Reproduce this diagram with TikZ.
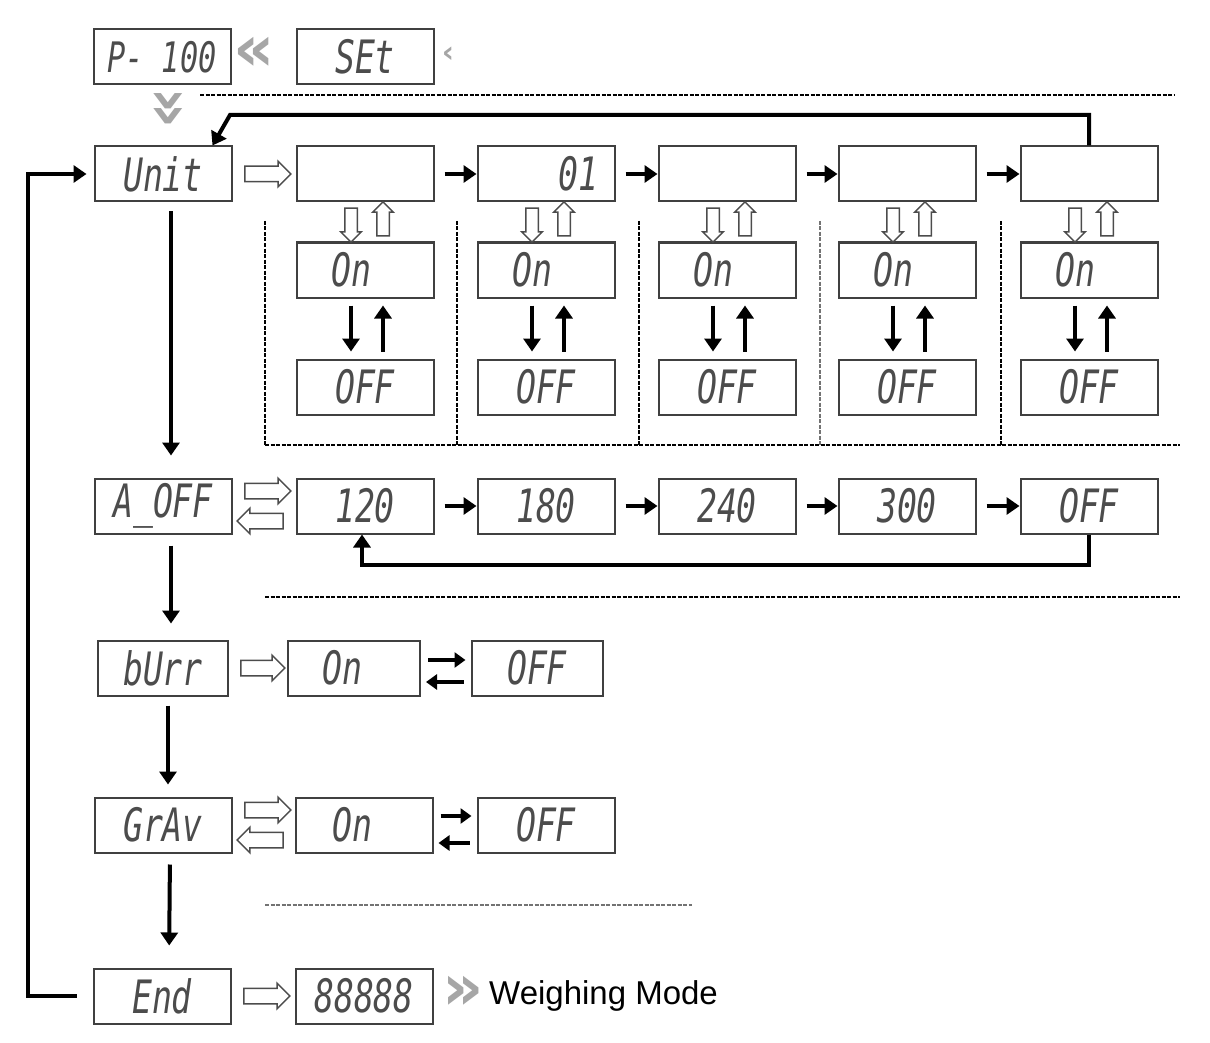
\documentclass[tikz,border=0pt]{standalone}
\usepackage{fontspec}
\setmainfont{Liberation Sans}
\newfontfamily\lcdfont{DejaVu Sans Mono}[FakeStretch=0.72]
\newfontfamily\symfont{DejaVu Sans}
\usetikzlibrary{arrows.meta,positioning,shapes.arrows,calc}

\tikzset{
  lcd/.style={draw=black!75, line width=2pt, minimum width=137pt, minimum height=55pt,
    inner sep=0pt, text=black!70, font=\lcdfont\itshape\fontsize{46}{46}\selectfont},
  lcdtext/.style={inner sep=0pt, text=black!70, font=\lcdfont\itshape\fontsize{46}{46}\selectfont},
  flow/.style={line width=4pt, -{Triangle[length=13pt,width=17pt]}},
  swap/.style={line width=4pt, -{Triangle[length=11pt,width=15pt]}, shorten <=7pt, shorten >=5pt},
  openarr/.style={single arrow, draw=black!70, fill=white, line width=1.5pt,
    minimum height=46pt, inner sep=7pt, single arrow head extend=5pt},
  openv/.style={openarr, minimum height=34pt, inner sep=5.5pt, single arrow head extend=4pt},
  chev/.style={inner sep=0pt, text=black!35, font=\symfont\bfseries\fontsize{64}{64}\selectfont},
  sep/.style={line width=2.5pt, dash pattern=on 4pt off 1.5pt},
  faint/.style={line width=1.2pt, black!55, dash pattern=on 4pt off 1.5pt}
}

\begin{document}
\begin{tikzpicture}[x=1pt, y=-1pt]
  \useasboundingbox (0,0) rectangle (1210,1043);

  % entering the setup menu
  \node[lcd, font=\lcdfont\itshape\fontsize{42}{42}\selectfont] (pset) at (162,57) {P- 100};
  \node[lcd] (set) at (365,57) {SEt};
  \node[chev] (cin) at (254,54) {«};
  \node[chev, font=\symfont\bfseries\fontsize{30}{30}\selectfont] (cset) at (448,55) {‹};
  \node[chev, rotate=-90] (cdown) at (166,108) {»};
  \draw[sep] (200,95) -- (1175,95);

  % unit selection
  \node[lcd] (unit) at (163,174) {Unit};
  \foreach \n/\x in {1/365,2/546,3/727,4/907,5/1089} {
    \node[lcd] (u\n) at (\x,174) {};
    \node[lcd] (on\n) at (\x,270) {\hspace*{-28pt}On};
    \node[lcd] (off\n) at (\x,387) {OFF};
    \node[openv, shape border rotate=270] (dn\n) at ({\x-14},222) {};
    \node[openv, shape border rotate=90] (up\n) at ({\x+18},222) {};
    \draw[flow, shorten <=7pt, shorten >=7pt] ([xshift=-14pt]on\n.south) -- ([xshift=-14pt]off\n.north);
    \draw[flow, shorten <=7pt, shorten >=7pt] ([xshift=18pt]off\n.north) -- ([xshift=18pt]on\n.south);
  }
  \node[lcdtext] (d01) at (578,174) {01};
  \node[openarr] (ounit) at (264,174) {};
  \foreach \a/\b in {1/2,2/3,3/4,4/5}
    \draw[flow, shorten <=10pt] (u\a) -- (u\b);
  \draw[flow] (u5.north) |- (230,115) -- ([xshift=-20pt]unit.north east);

  \draw[sep] (265,221) -- (265,445);
  \draw[sep] (457,221) -- (457,445);
  \draw[sep] (639,221) -- (639,445);
  \draw[faint] (820,221) -- (820,445);
  \draw[sep] (1001,221) -- (1001,445);
  \draw[sep] (265,445) -- (1180,445);

  % auto power off
  \node[lcd] (aoff) at (163,506) {A\_OFF};
  \node[lcd] (t120) at (365,506) {120};
  \node[lcd] (t180) at (546,506) {180};
  \node[lcd] (t240) at (727,506) {240};
  \node[lcd] (t300) at (907,506) {300};
  \node[lcd] (toff) at (1089,506) {OFF};
  \node[openarr] (oaoff) at (264,491) {};
  \node[openarr, shape border rotate=180] (baoff) at (264,521) {};
  \draw[flow, shorten <=10pt] (t120) -- (t180);
  \draw[flow, shorten <=10pt] (t180) -- (t240);
  \draw[flow, shorten <=10pt] (t240) -- (t300);
  \draw[flow, shorten <=10pt] (t300) -- (toff);
  \draw[flow] (toff.south) -- ++(0,30) -| ([xshift=-3pt]t120.south);
  \draw[sep] (265,597) -- (1180,597);

  % buzzer
  \node[lcd, minimum width=130pt] (burr) at (163,668) {bUrr};
  \node[lcd, minimum width=132pt] (burron) at (354,668) {\hspace*{-24pt}On};
  \node[lcd, minimum width=131pt] (burroff) at (537,668) {OFF};
  \node[openarr, minimum height=44pt] (oburr) at (259,668) {};
  \draw[swap] ([yshift=8pt]burron.east) -- ([yshift=8pt]burroff.west);
  \draw[swap] ([yshift=-14pt]burroff.west) -- ([yshift=-14pt]burron.east);

  % gravity
  \node[lcd] (grav) at (163,825) {GrAv};
  \node[lcd] (gravon) at (364,825) {\hspace*{-24pt}On};
  \node[lcd] (gravoff) at (546,825) {OFF};
  \node[openarr] (ograv) at (264,810) {};
  \node[openarr, shape border rotate=180] (bgrav) at (264,840) {};
  \draw[swap] ([yshift=9pt]gravon.east) -- ([yshift=9pt]gravoff.west);
  \draw[swap] ([yshift=-18pt]gravoff.west) -- ([yshift=-18pt]gravon.east);
  \draw[faint] (265,905) -- (692,905);

  % leaving the menu
  \node[lcd] (endd) at (162,996) {End};
  \node[lcd] (full) at (364,996) {88888};
  \node[openarr] (oend) at (263,996) {};
  \node[chev] (cout) at (463,993) {»};
  \node[anchor=west, inner sep=0pt, font=\fontsize{33}{33}\selectfont] (wm) at (489,996) {Weighing Mode};

  % menu order
  \draw[flow, shorten <=9pt, shorten >=22pt] ([xshift=8pt]unit.south) -- ([xshift=8pt]aoff.north);
  \draw[flow, shorten <=11pt, shorten >=16pt] ([xshift=8pt]aoff.south) -- ([xshift=8pt]burr.north);
  \draw[flow, shorten <=9pt, shorten >=12pt] ([xshift=5pt]burr.south) -- ([xshift=5pt]grav.north);
  \draw[flow, shorten <=11pt, shorten >=22pt] ([xshift=7pt]grav.south) -- ([xshift=7pt]endd.north);
  \draw[flow, shorten <=16pt, shorten >=7pt] (endd.west) -- ++(-65,0) |- (unit.west);
\end{tikzpicture}
\end{document}
